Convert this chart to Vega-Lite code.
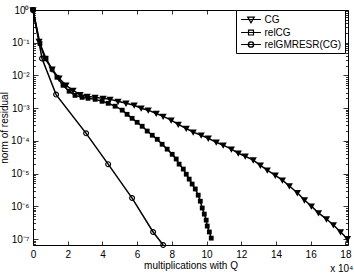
{
  "$schema": "https://vega.github.io/schema/vega-lite/v6.json",
  "width": 315,
  "height": 235,
  "autosize": {"type": "none"},
  "padding": {"left": 33, "top": 10, "right": 6, "bottom": 28},
  "config": {
    "view": {"stroke": "black", "strokeWidth": 1},
    "font": "Liberation Sans",
    "axis": {"domain": false, "grid": false, "labelFont": "Liberation Sans", "labelFontSize": 10, "labelColor": "black", "titleFont": "Liberation Sans", "titleFontSize": 10, "titleFontWeight": "normal", "titleColor": "black", "tickColor": "black", "tickWidth": 0.8}
  },
  "title": {"text": "x 10⁴", "orient": "bottom", "anchor": "end", "fontSize": 10, "fontWeight": "normal", "font": "Liberation Sans", "color": "black", "offset": -6, "dx": -4},
  "data": {"values": [
    {"series": "CG", "x": 0, "y": 1},
    {"series": "CG", "x": 0.35, "y": 0.11},
    {"series": "CG", "x": 0.69, "y": 0.033},
    {"series": "CG", "x": 1.10, "y": 0.0154},
    {"series": "CG", "x": 1.50, "y": 0.0082},
    {"series": "CG", "x": 1.90, "y": 0.0050},
    {"series": "CG", "x": 2.31, "y": 0.0035},
    {"series": "CG", "x": 2.71, "y": 0.0026},
    {"series": "CG", "x": 3.12, "y": 0.0023},
    {"series": "CG", "x": 3.58, "y": 0.00214},
    {"series": "CG", "x": 4.04, "y": 0.0020},
    {"series": "CG", "x": 4.44, "y": 0.00186},
    {"series": "CG", "x": 4.90, "y": 0.00162},
    {"series": "CG", "x": 5.36, "y": 0.00141},
    {"series": "CG", "x": 5.83, "y": 0.00123},
    {"series": "CG", "x": 6.23, "y": 0.0010},
    {"series": "CG", "x": 6.64, "y": 0.00087},
    {"series": "CG", "x": 7.10, "y": 0.00069},
    {"series": "CG", "x": 7.50, "y": 0.00056},
    {"series": "CG", "x": 7.96, "y": 0.00043},
    {"series": "CG", "x": 8.37, "y": 0.00032},
    {"series": "CG", "x": 8.83, "y": 0.00024},
    {"series": "CG", "x": 9.23, "y": 0.000185},
    {"series": "CG", "x": 9.69, "y": 0.000149},
    {"series": "CG", "x": 10.10, "y": 0.000120},
    {"series": "CG", "x": 10.56, "y": 0.000091},
    {"series": "CG", "x": 10.96, "y": 0.000074},
    {"series": "CG", "x": 11.43, "y": 0.000056},
    {"series": "CG", "x": 11.83, "y": 0.000042},
    {"series": "CG", "x": 12.23, "y": 0.000034},
    {"series": "CG", "x": 12.69, "y": 0.000026},
    {"series": "CG", "x": 13.10, "y": 0.000018},
    {"series": "CG", "x": 13.50, "y": 0.0000128},
    {"series": "CG", "x": 13.96, "y": 0.0000089},
    {"series": "CG", "x": 14.37, "y": 0.0000063},
    {"series": "CG", "x": 14.77, "y": 0.0000042},
    {"series": "CG", "x": 15.23, "y": 0.0000026},
    {"series": "CG", "x": 15.64, "y": 0.00000156},
    {"series": "CG", "x": 16.04, "y": 0.00000102},
    {"series": "CG", "x": 16.45, "y": 0.00000063},
    {"series": "CG", "x": 16.91, "y": 0.00000041},
    {"series": "CG", "x": 17.31, "y": 0.00000027},
    {"series": "CG", "x": 17.72, "y": 0.000000165},
    {"series": "CG", "x": 18.12, "y": 0.000000102},
    {"series": "relCG", "x": 0, "y": 1},
    {"series": "relCG", "x": 0.40, "y": 0.095},
    {"series": "relCG", "x": 0.75, "y": 0.033},
    {"series": "relCG", "x": 1.10, "y": 0.0154},
    {"series": "relCG", "x": 1.38, "y": 0.0088},
    {"series": "relCG", "x": 1.73, "y": 0.0050},
    {"series": "relCG", "x": 2.08, "y": 0.0033},
    {"series": "relCG", "x": 2.42, "y": 0.00246},
    {"series": "relCG", "x": 2.83, "y": 0.00214},
    {"series": "relCG", "x": 3.17, "y": 0.0020},
    {"series": "relCG", "x": 3.58, "y": 0.00186},
    {"series": "relCG", "x": 3.98, "y": 0.00162},
    {"series": "relCG", "x": 4.33, "y": 0.00141},
    {"series": "relCG", "x": 4.73, "y": 0.00115},
    {"series": "relCG", "x": 5.14, "y": 0.00087},
    {"series": "relCG", "x": 5.42, "y": 0.00065},
    {"series": "relCG", "x": 5.71, "y": 0.00049},
    {"series": "relCG", "x": 6.00, "y": 0.00037},
    {"series": "relCG", "x": 6.29, "y": 0.00028},
    {"series": "relCG", "x": 6.58, "y": 0.00020},
    {"series": "relCG", "x": 6.87, "y": 0.000149},
    {"series": "relCG", "x": 7.16, "y": 0.000112},
    {"series": "relCG", "x": 7.44, "y": 0.000079},
    {"series": "relCG", "x": 7.73, "y": 0.000056},
    {"series": "relCG", "x": 8.02, "y": 0.000039},
    {"series": "relCG", "x": 8.25, "y": 0.000028},
    {"series": "relCG", "x": 8.42, "y": 0.0000195},
    {"series": "relCG", "x": 8.66, "y": 0.0000138},
    {"series": "relCG", "x": 8.83, "y": 0.0000096},
    {"series": "relCG", "x": 9.00, "y": 0.0000068},
    {"series": "relCG", "x": 9.17, "y": 0.0000048},
    {"series": "relCG", "x": 9.35, "y": 0.0000034},
    {"series": "relCG", "x": 9.52, "y": 0.0000022},
    {"series": "relCG", "x": 9.64, "y": 0.00000144},
    {"series": "relCG", "x": 9.75, "y": 0.00000089},
    {"series": "relCG", "x": 9.87, "y": 0.00000058},
    {"series": "relCG", "x": 9.98, "y": 0.00000038},
    {"series": "relCG", "x": 10.04, "y": 0.00000025},
    {"series": "relCG", "x": 10.16, "y": 0.000000165},
    {"series": "relCG", "x": 10.27, "y": 0.000000107},
    {"series": "relGMRESR(CG)", "x": 0, "y": 1},
    {"series": "relGMRESR(CG)", "x": 0.52, "y": 0.033},
    {"series": "relGMRESR(CG)", "x": 1.33, "y": 0.0026},
    {"series": "relGMRESR(CG)", "x": 3.06, "y": 0.00017},
    {"series": "relGMRESR(CG)", "x": 4.33, "y": 0.0000195},
    {"series": "relGMRESR(CG)", "x": 5.71, "y": 0.00000179},
    {"series": "relGMRESR(CG)", "x": 6.92, "y": 0.000000165},
    {"series": "relGMRESR(CG)", "x": 7.50, "y": 0.000000066}
  ]},
  "layer": [
    {
      "mark": {"type": "line", "color": "black", "strokeWidth": 1.5},
      "encoding": {
        "x": {"field": "x", "type": "quantitative", "scale": {"domain": [0, 18.15], "nice": false, "zero": false},
          "axis": {"orient": "bottom", "values": [0, 2, 4, 6, 8, 10, 12, 14, 16, 18], "tickSize": -4, "labelPadding": 8, "labelFlush": false, "title": "multiplications with Q", "titlePadding": 1}},
        "y": {"field": "y", "type": "quantitative", "scale": {"type": "log", "domain": [6.6e-8, 1], "nice": false},
          "axis": {"orient": "left",
            "values": [7e-8, 8e-8, 9e-8, 1e-7, 2e-7, 3e-7, 4e-7, 5e-7, 6e-7, 7e-7, 8e-7, 9e-7, 1e-6, 2e-6, 3e-6, 4e-6, 5e-6, 6e-6, 7e-6, 8e-6, 9e-6, 1e-5, 2e-5, 3e-5, 4e-5, 5e-5, 6e-5, 7e-5, 8e-5, 9e-5, 1e-4, 2e-4, 3e-4, 4e-4, 5e-4, 6e-4, 7e-4, 8e-4, 9e-4, 1e-3, 2e-3, 3e-3, 4e-3, 5e-3, 6e-3, 7e-3, 8e-3, 9e-3, 1e-2, 2e-2, 3e-2, 4e-2, 5e-2, 6e-2, 7e-2, 8e-2, 9e-2, 0.1, 0.2, 0.3, 0.4, 0.5, 0.6, 0.7, 0.8, 0.9, 1],
            "tickSize": {"condition": {"test": "abs(log(datum.value)/LN10 - round(log(datum.value)/LN10)) < 0.001", "value": -5}, "value": -2.5},
            "labelExpr": "abs(log(datum.value)/LN10 - round(log(datum.value)/LN10)) < 0.001 ? '10' + (round(log(datum.value)/LN10) == 0 ? '⁰' : '⁻' + ['⁰','¹','²','³','⁴','⁵','⁶','⁷','⁸','⁹'][-round(log(datum.value)/LN10)]) : ''",
            "labelPadding": 9, "labelFlush": false, "labelOverlap": false,
            "title": "norm of residual", "titlePadding": 1}},
        "detail": {"field": "series"}
      }
    },
    {
      "transform": [{"filter": "datum.series === 'CG'"}],
      "mark": {"type": "point", "filled": true, "color": "black", "opacity": 1, "size": 36, "shape": "M-1.2,-0.9H1.2L0,1.2Z"},
      "encoding": {
        "x": {"field": "x", "type": "quantitative", "scale": {"domain": [0, 18.15], "nice": false, "zero": false},
          "axis": {"orient": "top", "values": [0, 2, 4, 6, 8, 10, 12, 14, 16, 18], "tickSize": -4, "labels": false, "title": null}},
        "y": {"field": "y", "type": "quantitative", "scale": {"type": "log", "domain": [6.6e-8, 1], "nice": false},
          "axis": {"orient": "right",
            "values": [7e-8, 8e-8, 9e-8, 1e-7, 2e-7, 3e-7, 4e-7, 5e-7, 6e-7, 7e-7, 8e-7, 9e-7, 1e-6, 2e-6, 3e-6, 4e-6, 5e-6, 6e-6, 7e-6, 8e-6, 9e-6, 1e-5, 2e-5, 3e-5, 4e-5, 5e-5, 6e-5, 7e-5, 8e-5, 9e-5, 1e-4, 2e-4, 3e-4, 4e-4, 5e-4, 6e-4, 7e-4, 8e-4, 9e-4, 1e-3, 2e-3, 3e-3, 4e-3, 5e-3, 6e-3, 7e-3, 8e-3, 9e-3, 1e-2, 2e-2, 3e-2, 4e-2, 5e-2, 6e-2, 7e-2, 8e-2, 9e-2, 0.1, 0.2, 0.3, 0.4, 0.5, 0.6, 0.7, 0.8, 0.9, 1],
            "tickSize": {"condition": {"test": "abs(log(datum.value)/LN10 - round(log(datum.value)/LN10)) < 0.001", "value": -5}, "value": -2.5},
            "labels": false, "title": null}}
      }
    },
    {
      "transform": [{"filter": "datum.series === 'relCG'"}],
      "mark": {"type": "point", "filled": true, "color": "black", "opacity": 1, "size": 36, "shape": "M-0.8,-0.8H0.8V0.8H-0.8Z"},
      "encoding": {
        "x": {"field": "x", "type": "quantitative", "scale": {"domain": [0, 18.15], "nice": false, "zero": false}, "axis": null},
        "y": {"field": "y", "type": "quantitative", "scale": {"type": "log", "domain": [6.6e-8, 1], "nice": false}, "axis": null}
      }
    },
    {
      "transform": [{"filter": "datum.series === 'relGMRESR(CG)'"}],
      "mark": {"type": "point", "filled": true, "color": "black", "opacity": 1, "size": 36, "shape": "M1,0A1,1 0 1 1 -1,0A1,1 0 1 1 1,0ZM0.6,0A0.6,0.6 0 1 0 -0.6,0A0.6,0.6 0 1 0 0.6,0Z"},
      "encoding": {
        "x": {"field": "x", "type": "quantitative", "scale": {"domain": [0, 18.15], "nice": false, "zero": false}, "axis": null},
        "y": {"field": "y", "type": "quantitative", "scale": {"type": "log", "domain": [6.6e-8, 1], "nice": false}, "axis": null}
      }
    },
    {
      "mark": {"type": "point", "filled": false, "color": "black", "strokeWidth": 1.2, "opacity": 1, "fillOpacity": 0, "strokeOpacity": 0, "size": 121},
      "encoding": {
        "x": {"field": "x", "type": "quantitative", "scale": {"domain": [0, 18.15], "nice": false, "zero": false}, "axis": null},
        "y": {"field": "y", "type": "quantitative", "scale": {"type": "log", "domain": [6.6e-8, 1], "nice": false}, "axis": null},
        "shape": {"field": "series", "type": "nominal",
          "scale": {"domain": ["CG", "relCG", "relGMRESR(CG)"], "range": ["M-1.8,0H1.8M-0.6,-0.45H0.6L0,0.6Z", "M-1.8,0H1.8M-0.45,-0.45H0.45V0.45H-0.45Z", "M-1.8,0H1.8M0.5,0A0.5,0.5 0 1 1 -0.5,0A0.5,0.5 0 1 1 0.5,0ZM0.46,0A0.46,0.46 0 1 0 -0.46,0A0.46,0.46 0 1 0 0.46,0Z"]},
          "legend": {"title": null, "orient": "none", "legendX": 203, "legendY": 0,
            "strokeColor": "black", "fillColor": "white", "padding": 3, "cornerRadius": 0,
            "labelFont": "Liberation Sans", "labelFontSize": 10, "labelColor": "black", "labelLimit": 0,
            "symbolSize": 121, "symbolOffset": 5.5, "labelOffset": 7, "rowPadding": 0,
            "symbolStrokeWidth": 1.2, "symbolStrokeColor": "black", "symbolFillColor": "black",
            "encode": {"symbols": {"fillOpacity": {"value": 1}, "strokeOpacity": {"value": 1}, "fill": {"value": "black"}, "stroke": {"value": "black"}}}}}
      }
    }
  ],
  "resolve": {"axis": {"x": "independent", "y": "independent"}}
}
